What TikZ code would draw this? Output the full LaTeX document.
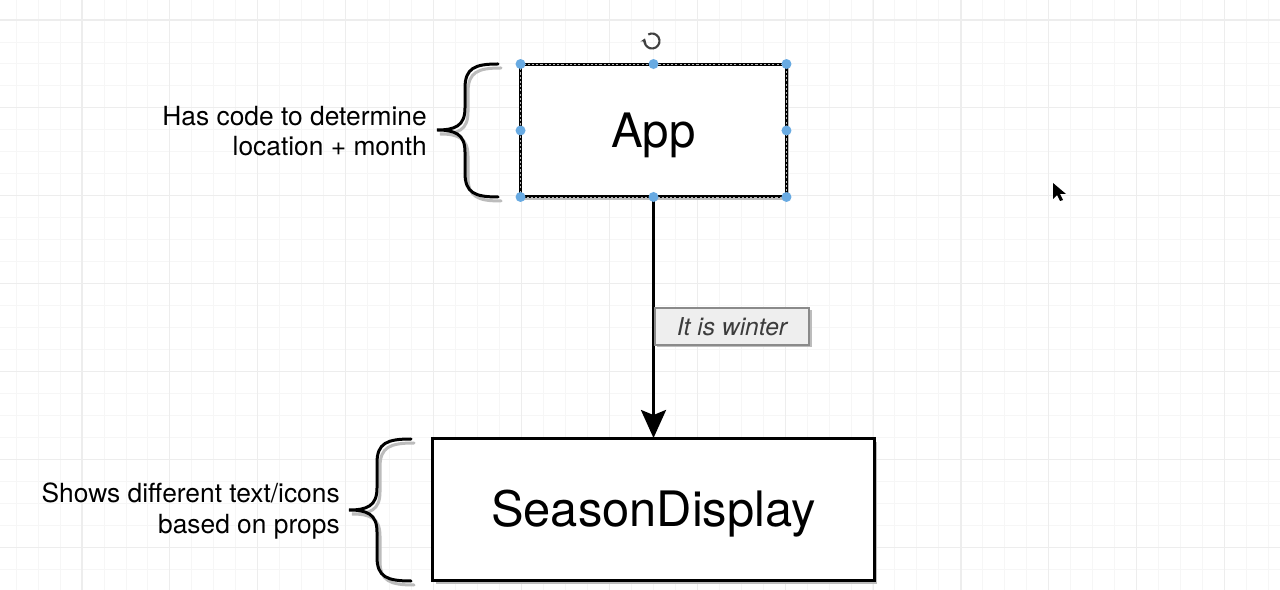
\documentclass[tikz,border=0pt]{standalone}
\usepackage{fontspec}
\setmainfont{TeX Gyre Heros}
\usetikzlibrary{arrows.meta,positioning,shadows}
\definecolor{handleblue}{RGB}{104,170,226}
\definecolor{tagfill}{RGB}{238,238,238}
\definecolor{tagline}{RGB}{138,138,138}
\definecolor{tagtext}{RGB}{60,60,60}
\definecolor{shade}{RGB}{188,188,188}
\tikzset{
  comp/.style={
    draw,
    line width=0.06cm,
    fill=white,
    inner sep=0,
    outer sep=0,
    text height=19.4pt,
    text depth=0pt,
    font=\fontsize{27}{32}\selectfont,
    drop shadow={shadow xshift=0.06cm, shadow yshift=-0.07cm, fill=shade, opacity=1}
  },
  note/.style={
    align=right,
    inner sep=0,
    font=\fontsize{15}{17.2}\selectfont
  },
  tag/.style={
    draw=tagline,
    line width=0.04cm,
    fill=tagfill,
    text=tagtext,
    minimum width=3.1cm,
    minimum height=0.74cm,
    inner sep=0,
    font=\fontsize{14}{16}\selectfont\itshape,
    drop shadow={shadow xshift=0.05cm, shadow yshift=-0.05cm, fill=shade, opacity=1}
  },
  handle/.style={
    fill=handleblue
  },
  selbox/.style={
    draw=gray!55,
    line width=0.4pt,
    dash pattern=on 1.2pt off 1.2pt
  },
}
\tikzset{
  flow/.style={
    line width=0.06cm,
    -{Stealth[length=0.56cm, width=0.5cm, inset=0.1cm]}
  },
  brace/.style={
    line width=0.06cm,
    line cap=round
  },
  minor/.style={
    draw=gray!7,
    line width=0.5pt
  },
  major/.style={
    draw=gray!14,
    line width=0.6pt
  },
}
\begin{document}
\begin{tikzpicture}[x=0.02cm, y=-0.02cm]
  \useasboundingbox (0,0) rectangle (1280,590);
  \clip (0,0) rectangle (1280,590);
  \fill[white] (0,0) rectangle (1280,590);
  \foreach \i in {-4,...,54}
    \draw[minor] ({82+21.97*\i},0) -- ++(0,590);
  \foreach \i in {-1,...,26}
    \draw[minor] (0,{20+21.97*\i}) -- ++(1280,0);
  \foreach \i in {-1,...,13}
    \draw[major] ({82+87.9*\i},0) -- ++(0,590);
  \foreach \i in {0,...,6}
    \draw[major] (0,{20+87.9*\i}) -- ++(1280,0);

  \node[comp, minimum width=5.32cm, minimum height=2.66cm] (app) at (653.5,130.5) {App};
  \node[comp, minimum width=8.84cm, minimum height=2.86cm, font=\fontsize{27.8}{32}\selectfont] (season) at (653.5,509.5) {SeasonDisplay};
  \draw[flow] (app) -- node[tag, pos=0.537, anchor=west] (winter) {It is winter} (season);

  \draw[selbox] (app.north west) rectangle (app.south east);
  \foreach \a in {north west,north,north east,east,south east,south,south west,west}
    \fill[handle] (app.\a) circle (0.1cm);

  \foreach \e/\s/\t/\a/\m/\b in {498/465/437/64/130/197, 411/377/349/439/510/581}{
    \foreach \c/\dx/\dy in {shade/3/4, black/0/0}
      \draw[brace, draw=\c, shift={(\dx,\dy)}] (\e,\a)
        .. controls ({\s+10},\a) and (\s,{\a+4}) .. (\s,{\a+24}) -- (\s,{\m-22})
        .. controls (\s,{\m-4}) and ({\s-10},\m) .. (\t,\m)
        .. controls ({\s-10},\m) and (\s,{\m+4}) .. (\s,{\m+22}) -- (\s,{\b-24})
        .. controls (\s,{\b-4}) and ({\s+10},\b) .. (\e,\b);
  }
  \coordinate (apptip) at (437,131);
  \coordinate (seasontip) at (349,511);
  \node[note, left=0.2cm of apptip] (appnote) {Has code to determine\\location + month};
  \node[note, left=0.18cm of seasontip] (seasonnote) {Shows different text/icons\\based on props};

  \draw[line width=1.2pt, gray!50!black, -{Stealth[length=2.5pt, width=3.5pt]}]
    (652,41) ++(120:0.15cm) arc[start angle=120, end angle=-200, radius=0.15cm];
  \fill (1053,183) -- (1053,199) -- (1057,195) -- (1060,201) -- (1063,200)
    -- (1060,194) -- (1066,194) -- cycle;
\end{tikzpicture}
\end{document}
